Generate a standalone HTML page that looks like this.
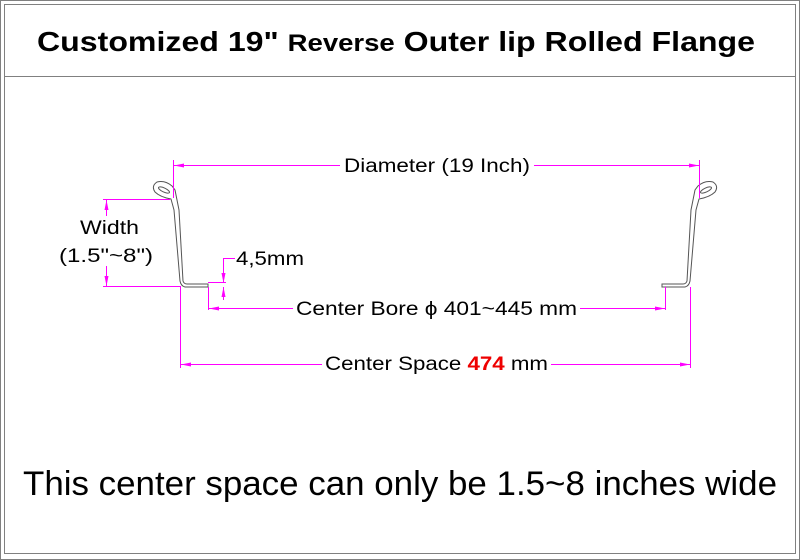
<!DOCTYPE html>
<html><head><meta charset="utf-8"><style>
html,body{margin:0;padding:0;background:#fff;}
svg{display:block;}
</style></head><body>
<svg width="800" height="560" viewBox="0 0 800 560" xmlns="http://www.w3.org/2000/svg">
<defs>
<marker id="a" viewBox="0 0 10 4" refX="10" refY="2" markerWidth="10" markerHeight="4" markerUnits="userSpaceOnUse" orient="auto-start-reverse"><path d="M0,0L10,2L0,4z" fill="#f0f"/></marker>
</defs>
<rect x="0.5" y="0.5" width="799" height="559" fill="none" stroke="#808080"/>
<rect x="4.5" y="4.5" width="791" height="549" fill="none" stroke="#808080"/>
<line x1="4" y1="76.5" x2="796" y2="76.5" stroke="#808080"/>
<text x="396" y="51" text-anchor="middle" font-family="Liberation Sans, sans-serif" font-weight="bold" font-size="28" textLength="718" lengthAdjust="spacingAndGlyphs">Customized 19" <tspan font-size="24">Reverse</tspan> Outer lip Rolled Flange</text>

<g id="prof" fill="none" stroke="#555" stroke-width="1">
<path d="M175,190 L179,210 L183,281 Q184,284 187,284 L208,284 L208,287 L185,287 Q181,286 180,281 L174,210 L171,199 Q160,197 155,192 Q151,186 157,182 Q165,180 172,186 Z"/>
<ellipse cx="164" cy="190" rx="6" ry="2" transform="rotate(25 164 190)"/>
</g>
<use href="#prof" transform="translate(870,0) scale(-1,1)"/>

<g stroke="#f0f" stroke-width="1" fill="none">
<line x1="173.5" y1="160" x2="173.5" y2="198"/>
<line x1="699.5" y1="160" x2="699.5" y2="198"/>
<line x1="174" y1="165.5" x2="340" y2="165.5" marker-start="url(#a)"/>
<line x1="534" y1="165.5" x2="699" y2="165.5" marker-end="url(#a)"/>
<line x1="103" y1="199.5" x2="170" y2="199.5"/>
<line x1="103" y1="286.5" x2="181" y2="286.5"/>
<line x1="106.5" y1="200" x2="106.5" y2="216" marker-start="url(#a)"/>
<line x1="106.5" y1="266" x2="106.5" y2="286" marker-end="url(#a)"/>
<line x1="208" y1="282.5" x2="226" y2="282.5"/>
<line x1="223.5" y1="258" x2="223.5" y2="283" marker-end="url(#a)"/>
<line x1="223.5" y1="300" x2="223.5" y2="287" marker-end="url(#a)"/>
<line x1="223" y1="258.5" x2="235" y2="258.5"/>
<line x1="208.5" y1="287" x2="208.5" y2="310"/>
<line x1="665.5" y1="287" x2="665.5" y2="310"/>
<line x1="209" y1="308.5" x2="293" y2="308.5" marker-start="url(#a)"/>
<line x1="580" y1="308.5" x2="665" y2="308.5" marker-end="url(#a)"/>
<line x1="180.5" y1="287" x2="180.5" y2="368"/>
<line x1="690.5" y1="287" x2="690.5" y2="368"/>
<line x1="181" y1="364.5" x2="322" y2="364.5" marker-start="url(#a)"/>
<line x1="551" y1="364.5" x2="690" y2="364.5" marker-end="url(#a)"/>
</g>

<g font-family="Liberation Sans, DejaVu Sans, sans-serif" font-size="19" fill="#000">
<text x="437" y="172" text-anchor="middle" textLength="186" lengthAdjust="spacingAndGlyphs">Diameter (19 Inch)</text>
<text x="80" y="234" textLength="59" lengthAdjust="spacingAndGlyphs">Width</text>
<text x="106" y="262" text-anchor="middle" textLength="94" lengthAdjust="spacingAndGlyphs">(1.5"~8")</text>
<text x="236" y="265" textLength="68" lengthAdjust="spacingAndGlyphs">4,5mm</text>
<text x="296" y="315" textLength="281" lengthAdjust="spacingAndGlyphs">Center Bore ϕ 401~445 mm</text>
<text x="325" y="370" textLength="223" lengthAdjust="spacingAndGlyphs">Center Space <tspan fill="#e00" font-weight="bold">474</tspan> mm</text>
</g>
<text x="400" y="495" text-anchor="middle" font-family="Liberation Sans, sans-serif" font-size="34" textLength="754" lengthAdjust="spacingAndGlyphs">This center space can only be 1.5~8 inches wide</text>
</svg>
</body></html>
